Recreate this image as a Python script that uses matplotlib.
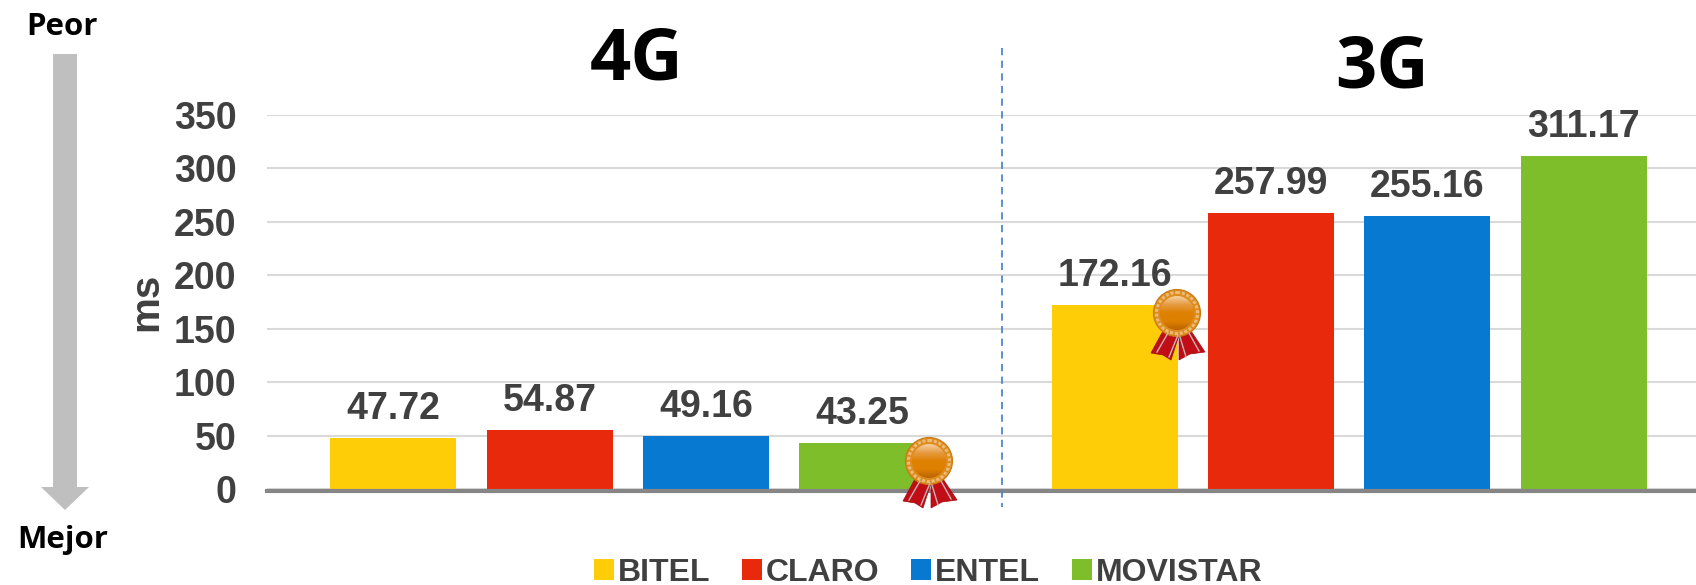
#!/usr/bin/env python3
"""Latency by operator, 4G vs 3G, with the best operator marked by a medal."""
import matplotlib
matplotlib.use("Agg")
import matplotlib.pyplot as plt
import numpy as np
from matplotlib.colors import LinearSegmentedColormap
from matplotlib.patches import Circle, Patch, Polygon

W, H = 1696, 585

groups = ["4G", "3G"]
operators = ["BITEL", "CLARO", "ENTEL", "MOVISTAR"]
values_4g = [47.72, 54.87, 49.16, 43.25]
values_3g = [172.16, 257.99, 255.16, 311.17]
colors = ["#FFCC08", "#E8290B", "#0779D1", "#7DBE2A"]
y_ticks = [0, 50, 100, 150, 200, 250, 300, 350]

DARK = "#404040"
BRONZE = LinearSegmentedColormap.from_list("bronze", ["#F6CFA0", "#E69A40", "#DE8000", "#DE8000", "#B86400"])
plt.rcParams["font.family"] = ["Liberation Sans", "DejaVu Sans"]
plt.rcParams["font.weight"] = "bold"


def medal(ov, cx, cy):
    """Bronze rosette, in pixel coords of the overlay axes."""
    for pts in ([(-14, 18), (2, 22), (-6, 47), (-14, 42), (-26, 40)],
                [(2, 22), (14, 18), (28, 39), (13, 41), (2, 47)]):
        ov.add_patch(Polygon([(cx + x, cy + y) for x, y in pts], fc="#C00D16", ec="#A00A12", lw=0.5))
    for (x0, y0), (x1, y1) in [((-9, 20), (-20, 39)), ((1, 22), (-8, 44)),
                               ((3, 24), (9, 44)), ((12, 20), (22, 38))]:
        ov.plot([cx + x0, cx + x1], [cy + y0, cy + y1], color="#C9B4B4", lw=1.0)
    ov.add_patch(Circle((cx, cy), 23.5, fc="#DE8C1E", ec="#C87A10", lw=0.8))
    ov.add_patch(Circle((cx, cy), 20.5, fc="none", ec="#EDBB78", lw=2.2, ls=(0, (1, 0.6))))
    img = ov.imshow(np.linspace(0, 1, 64)[:, None], extent=(cx - 17, cx + 17, cy + 17, cy - 17),
                    cmap=BRONZE, aspect="auto", zorder=3)
    img.set_clip_path(Circle((cx, cy), 17, transform=ov.transData))


fig = plt.figure(figsize=(W / 100, H / 100), dpi=100)
# the plot area runs slightly past the right edge of the picture
ax = fig.add_axes([267 / W, (H - 489) / H, (1710 - 267) / W, (489 - 115) / H])

x = np.arange(len(groups))
step = 0.2165
for i, (name, color) in enumerate(zip(operators, colors)):
    vals = [values_4g[i], values_3g[i]]
    bars = ax.bar(x + (i - 1.5) * step, vals, width=0.1745, color=color, label=name, zorder=2)
    ax.bar_label(bars, fmt="%.2f", padding=8, fontsize=27, color=DARK, fontweight="bold")

ax.set_xlim(-0.5, 1.5)
ax.set_ylim(0, 350)
ax.set_yticks(y_ticks)
ax.set_xticks([])
ax.tick_params(axis="y", length=0, pad=22, labelsize=27, labelcolor=DARK)
ax.grid(axis="y", color="#D9D9D9", lw=1.5, zorder=0)
ax.set_axisbelow(True)
for side in ("top", "left", "right"):
    ax.spines[side].set_visible(False)
ax.spines["bottom"].set_color("#868686")
ax.spines["bottom"].set_linewidth(3)
ax.spines["bottom"].set_position(("outward", 1.4))
ax.set_ylabel("ms", fontsize=29, color=DARK, fontweight="bold", labelpad=6)

handles = [Patch(fc=c, label=n) for n, c in zip(operators, colors)]
fig.legend(handles=handles, loc="center", bbox_to_anchor=(928 / W, 1 - 573 / H), ncol=4, frameon=False,
           fontsize=23, labelcolor=DARK, handlelength=0.62, handleheight=0.62, handletextpad=0.12,
           columnspacing=1.0, borderpad=0, borderaxespad=0)

# pixel-space overlay for the annotations around the chart
ov = fig.add_axes([0, 0, 1, 1], zorder=5)
ov.patch.set_alpha(0)
ov.axis("off")

ov.plot([1002, 1002], [48, 507], color="#4F86CC", lw=1.3, ls=(0, (4, 3)))
ov.add_patch(Polygon([(53, 54), (77, 54), (77, 487), (89, 487), (65, 510), (41, 487), (53, 487)],
                     fc="#BFBFBF", ec="none"))
for px, py, label in [(62, 27, "Peor"), (63, 540, "Mejor")]:
    ov.text(px, py, label, ha="center", va="center", fontsize=22.5, color="black",
            family="Open Sans", fontweight="bold")
for px, py, label in [(637, 60, groups[0]), (1382, 69, groups[1])]:
    ov.text(px, py, label, ha="center", va="center", fontsize=52, color="black",
            family="Open Sans", fontweight="bold")

medal(ov, 929, 461)
medal(ov, 1177, 313)

ov.set_xlim(0, W)
ov.set_ylim(H, 0)

fig.savefig("out.png", dpi=100)
